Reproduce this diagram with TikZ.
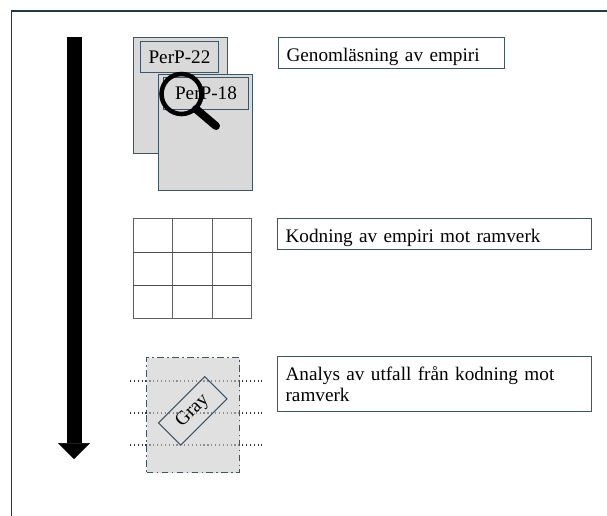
\documentclass[tikz,border=0pt]{standalone}
\usepackage{fontspec}
\setmainfont{Liberation Serif}
\usepackage{xcolor}
\usetikzlibrary{arrows.meta,positioning,shapes}
\definecolor{slate}{HTML}{3E5565}
\definecolor{framecol}{HTML}{22394A}
\definecolor{docgray}{HTML}{D9D9D9}
\definecolor{boxgray}{HTML}{CBCBCB}
\tikzset{%
	doc/.style      = {draw=slate, fill=docgray, line width=0.9pt, rectangle, minimum width=70.5pt, minimum height=87pt, inner sep=0pt, anchor=north west}, % Page
	tag/.style      = {draw=slate, fill=docgray, line width=0.75pt, rectangle, inner sep=0pt, anchor=north west}, % Page label
	stepnote/.style = {draw=slate, line width=0.9pt, rectangle, anchor=north west, align=left, inner xsep=6pt, inner ysep=0pt}, % Step text
	gridline/.style = {draw=gray!75!black, line width=0.7pt},
	guide/.style    = {dotted, line width=0.9pt, draw=black!80},
}

\begin{document}
\begin{tikzpicture}[x=0.75pt,y=-0.75pt,every node/.style={font=\fontsize{14.4}{15.3}\selectfont}]
	\useasboundingbox (0,0) rectangle (607,515);
	\coordinate (fa) at (11.5,560);
	\coordinate (fb) at (660,11);
	\draw[draw=framecol, line width=1pt] (fa) |- (fb);
	
	% time line
	\coordinate (tstart) at (74,37);
	\coordinate (tend) at (74,459);
	\draw[line width=11.25pt, -{Triangle[width=24pt,length=12pt,line width=0.4pt]}] (tstart) -- (tend);
	
	% reading
	\node [doc] (d22) at (133,37) {};
	\node [tag, minimum width=58.5pt, minimum height=23.25pt] (p22) at (140,41) {PerP-22};
	\node [doc] (d18) at (158,74) {};
	\node [tag, minimum width=63.75pt, minimum height=24pt] (p18) at (163,77) {PerP-18};
	\coordinate (mag) at (181.5,94);
	\coordinate (hs) at (196,109);
	\coordinate (he) at (216,126);
	\draw[line width=3.4pt] (mag) circle (15pt);
	\draw[line width=6pt, line cap=round] (hs) -- (he);
	\node [stepnote, text width=157.5pt, minimum height=23.25pt, text height=12.8pt, text depth=0pt] (t1) at (278,37) {Genomläsning av empiri};
	
	% coding
	\node [draw=gray!75!black, line width=0.8pt, rectangle, minimum width=88.5pt, minimum height=75pt, inner sep=0pt, anchor=north west] (grid) at (133,218) {};
	\foreach \x in {172,212}
		\draw[gridline] (\x,218) -- (\x,318);
	\foreach \y in {252,285}
		\draw[gridline, draw=black!70] (133,\y) -- (251,\y);
	\node [stepnote, text width=223.5pt, minimum height=23.25pt, text height=12.8pt, text depth=0pt] (t2) at (277,218) {Kodning av empiri mot ramverk};
	
	% analysis
	\foreach \y in {381,413,445}
		\draw[guide] (130,\y) -- (262,\y);
	\node [draw=slate, dash pattern=on 5pt off 2.5pt on 1.2pt off 2.5pt, line width=1.1pt, fill=boxgray, fill opacity=0.6, rectangle, minimum width=69.75pt, minimum height=86.25pt, inner sep=0pt, anchor=north west] (ana) at (146,357) {};
	\node [draw=slate, line width=0.8pt, rectangle, rotate=45, minimum width=49pt, minimum height=23.6pt, inner sep=0pt] (gray) at (192.7,410.8) {Gray};
	\node [stepnote, text width=223.5pt, minimum height=41.25pt] (t3) at (277,356) {Analys av utfall från kodning mot\\ramverk};
\end{tikzpicture}
\end{document}
